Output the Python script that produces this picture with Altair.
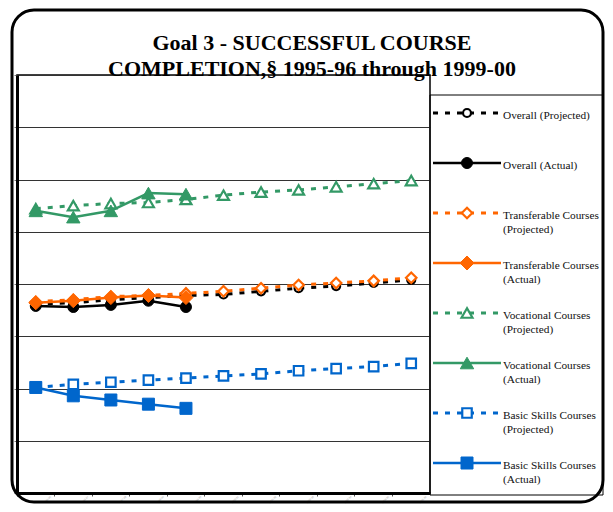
import altair as alt
import pandas as pd

# ---------------- data ----------------
years = ["1995-96", "1996-97", "1997-98", "1998-99", "1999-00", "2000-01",
         "2001-02", "2002-03", "2003-04", "2004-05", "2005-06"]

overall_projected = [68.1, 68.2, 68.5, 68.7, 68.9, 69.0, 69.3, 69.6, 69.8, 70.1, 70.4]
overall_actual = [67.9, 67.8, 68.0, 68.4, 67.8]
transferable_projected = [68.3, 68.5, 68.8, 68.9, 69.1, 69.3, 69.6, 69.9, 70.1, 70.3, 70.6]
transferable_actual = [68.2, 68.4, 68.7, 68.9, 68.7]
vocational_projected = [77.2, 77.5, 77.7, 77.8, 78.1, 78.5, 78.8, 79.0, 79.3, 79.6, 79.9]
vocational_actual = [77.0, 76.4, 77.0, 78.7, 78.6]
basic_projected = [60.1, 60.4, 60.6, 60.8, 61.0, 61.2, 61.4, 61.7, 61.9, 62.1, 62.4]
basic_actual = [60.1, 59.3, 58.9, 58.5, 58.1]

y_ticks = [50, 55, 60, 65, 70, 75, 80, 85, 90]

series_names = ["Overall (Projected)", "Overall (Actual)",
                "Transferable Courses (Projected)", "Transferable Courses (Actual)",
                "Vocational Courses (Projected)", "Vocational Courses (Actual)",
                "Basic Skills Courses (Projected)", "Basic Skills Courses (Actual)"]
legend_labels = ["Overall (Projected)", "Overall (Actual)",
                 "Transferable Courses\n(Projected)", "Transferable Courses\n(Actual)",
                 "Vocational Courses\n(Projected)", "Vocational Courses\n(Actual)",
                 "Basic Skills Courses\n(Projected)", "Basic Skills Courses\n(Actual)"]
series_values = [overall_projected, overall_actual,
                 transferable_projected, transferable_actual,
                 vocational_projected, vocational_actual,
                 basic_projected, basic_actual]

title_lines = ["Goal 3 - SUCCESSFUL COURSE", "COMPLETION,\u00a7 1995-96 through 1999-00"]

# ---------------- styles ----------------
BLACK, ORANGE, GREEN, BLUE = "#000000", "#FF6600", "#339966", "#0066CC"
styles = [
    dict(color=BLACK, dashed=True, shape="circle", filled=False, size=64),
    dict(color=BLACK, dashed=False, shape="circle", filled=True, size=121),
    dict(color=ORANGE, dashed=True, shape="diamond", filled=False, size=110),
    dict(color=ORANGE, dashed=False, shape="diamond", filled=True, size=196),
    dict(color=GREEN, dashed=True, shape="triangle-up", filled=False, size=120),
    dict(color=GREEN, dashed=False, shape="triangle-up", filled=True, size=180),
    dict(color=BLUE, dashed=True, shape="square", filled=False, size=90),
    dict(color=BLUE, dashed=False, shape="square", filled=True, size=144),
]

SERIF = "Liberation Serif"
W, H = 413, 418

x_scale = alt.Scale(type="band", domain=years, paddingInner=0, paddingOuter=0)
x_axis = alt.Axis(bandPosition=0, labelAngle=-45, labelAlign="right", labelBaseline="middle",
                  labelFontSize=2.5, labelColor="#999999", labelOffset=15, labelPadding=0,
                  labelOverlap=False, tickSize=3, tickColor="#555555", tickWidth=1,
                  domainColor="black", domainWidth=3, grid=False, title=None)
y_scale = alt.Scale(domain=[50, 90], nice=False, zero=False)
y_axis = alt.Axis(values=y_ticks, labels=False, tickSize=3, tickColor="#777777",
                  domainColor="black", domainWidth=3, grid=True, gridColor="#333333",
                  gridWidth=1, title=None)


def line_kwargs(st):
    kw = dict(color=st["color"], strokeWidth=3 if st["dashed"] else 2.5)
    if st["dashed"]:
        kw["strokeDash"] = [5, 7]
    return kw


def point_kwargs(st):
    return dict(shape=st["shape"], size=st["size"], filled=True, opacity=1,
                fill=st["color"] if st["filled"] else "white", stroke=st["color"],
                strokeWidth=1 if st["filled"] else 2.2)


# ---------------- data layers ----------------
data_layers = []
for name, vals, st in zip(series_names, series_values, styles):
    df = pd.DataFrame({"year": years[:len(vals)], "value": vals, "series": name})
    base = alt.Chart(df).encode(
        x=alt.X("year:O", sort=years, scale=x_scale, axis=x_axis, title=None),
        y=alt.Y("value:Q", scale=y_scale, axis=y_axis, title=None),
    )
    data_layers.append(base.mark_line(**line_kwargs(st)))
    data_layers.append(base.mark_point(**point_kwargs(st)))
data_group = alt.layer(*data_layers)

# ---------------- legend layers ----------------
leg_scale = alt.Scale(domain=[0, 7], range=[38, 388])
legend_layers = []
for i, (lab, st) in enumerate(zip(legend_labels, styles)):
    ldf = pd.DataFrame({"row": [i], "label": [lab]})
    lbase = alt.Chart(ldf).encode(y=alt.Y("row:Q", scale=leg_scale, axis=None))
    legend_layers.append(lbase.mark_rule(**line_kwargs(st)).encode(
        x=alt.value(416), x2=alt.value(484)))
    legend_layers.append(lbase.mark_point(**point_kwargs(st)).encode(x=alt.value(450)))
    legend_layers.append(lbase.mark_text(align="left", baseline="alphabetic", dy=6,
                                         lineBreak="\n", lineHeight=14, font=SERIF,
                                         fontSize=11.3, color="#111111").encode(
        x=alt.value(486), text="label:N"))
legend_group = alt.layer(*legend_layers)

# ---------------- decorations ----------------
one = alt.Data(values=[{}])
outer_frame = alt.Chart(one).mark_rect(filled=False, stroke="black", strokeWidth=3,
                                       cornerRadius=22).encode(
    x=alt.value(-5), x2=alt.value(586), y=alt.value(-65), y2=alt.value(427))
legend_box = alt.Chart(one).mark_rect(filled=False, stroke="black", strokeWidth=1).encode(
    x=alt.value(413), x2=alt.value(586), y=alt.value(20), y2=alt.value(420))
title = alt.Chart(one).mark_text(align="center", baseline="alphabetic", font=SERIF,
                                 fontSize=22, fontWeight="bold", lineHeight=26,
                                 color="black").encode(
    x=alt.value(295), y=alt.value(-25), text=alt.value(title_lines))

chart = alt.layer(outer_frame, legend_box, data_group, legend_group, title).resolve_scale(
    y="independent"
).properties(
    width=W, height=H,
    autosize=alt.AutoSizeParams(type="none"),
    padding={"left": 9, "top": 67, "right": 175, "bottom": 11},
    background="white",
).configure_view(stroke="black", strokeWidth=1.5)

chart.save("out.html", embed_options={"renderer": "svg", "actions": False})
